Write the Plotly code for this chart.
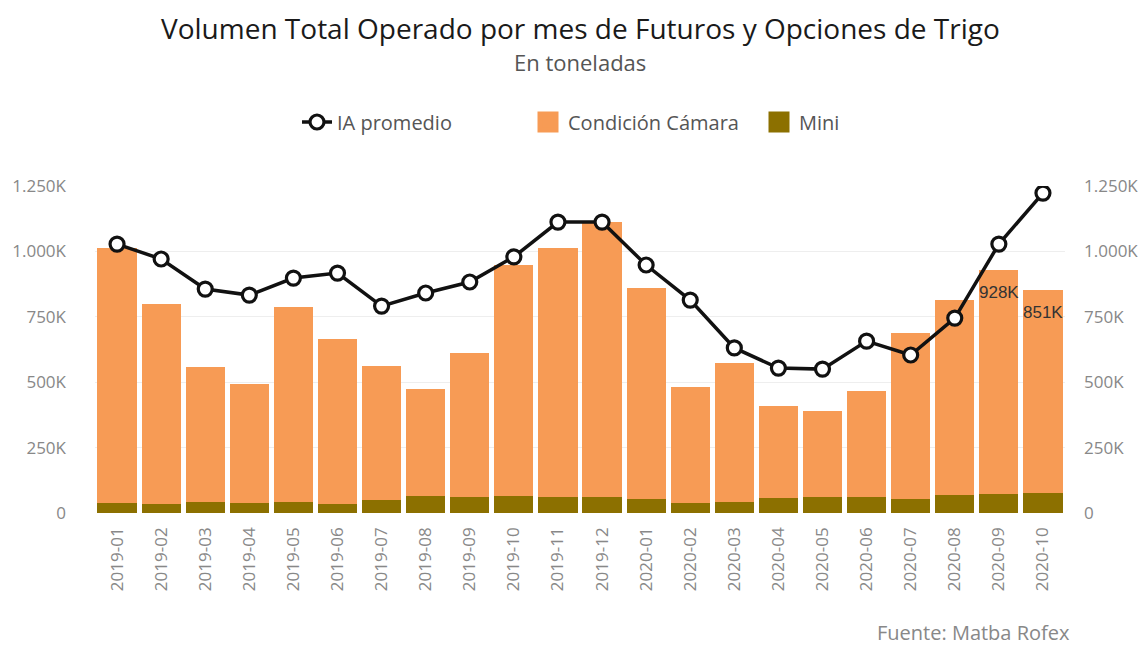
import plotly.graph_objects as go

meses = ["2019-01","2019-02","2019-03","2019-04","2019-05","2019-06","2019-07","2019-08",
         "2019-09","2019-10","2019-11","2019-12","2020-01","2020-02","2020-03","2020-04",
         "2020-05","2020-06","2020-07","2020-08","2020-09","2020-10"]
# Total (Cámara + Mini), tonnes
total = [1013000, 799000, 558000, 493000, 787000, 665000, 562000, 474000,
         612000, 948000, 1013000, 1112000, 860000, 482000, 573000, 409000,
         390000, 466000, 688000, 814000, 928000, 851000]
mini = [40000, 36000, 42000, 38000, 42000, 36000, 50000, 65000,
        62000, 65000, 62000, 62000, 52000, 38000, 42000, 58000,
        62000, 62000, 55000, 68000, 72000, 75000]
camara = [t - m for t, m in zip(total, mini)]
ia_promedio = [1028000, 971000, 856000, 833000, 898000, 917000, 791000, 841000,
               883000, 979000, 1112000, 1112000, 948000, 814000, 631000, 554000,
               550000, 657000, 604000, 745000, 1028000, 1223000]
etiquetados = ["2020-09", "2020-10"]

tickvals = [0, 250000, 500000, 750000, 1000000, 1250000]
ticktext = ["0", "250K", "500K", "750K", "1.000K", "1.250K"]

C_CAMARA = "#F79B55"
C_MINI = "#8C7000"
FONT = "Open Sans"

# page body adds an 8px margin; layout sized to compensate
W, H = 1138, 639
ML, MR, MT, MB = 87, 81, 178, 134
PW = W - ML - MR
PH = H - MT - MB

fig = go.Figure()
fig.add_trace(go.Bar(x=meses, y=mini, name="Mini", marker_color=C_MINI,
                     marker_line_width=0, showlegend=False))
fig.add_trace(go.Bar(x=meses, y=camara, name="Condición Cámara", marker_color=C_CAMARA,
                     marker_line_width=0, showlegend=False))
fig.add_trace(go.Scatter(x=meses, y=ia_promedio, name="IA promedio", yaxis="y2",
                         mode="lines+markers",
                         line=dict(color="#111", width=3.5),
                         marker=dict(size=14, color="white", line=dict(color="#111", width=3.2)),
                         legendrank=1))
# legend entries for the bar series (larger swatches)
fig.add_trace(go.Scatter(x=[None], y=[None], mode="markers", name="Condición Cámara",
                         marker=dict(symbol="square", size=34, color=C_CAMARA,
                                     line=dict(color=C_CAMARA, width=5)), legendrank=2))
fig.add_trace(go.Scatter(x=[None], y=[None], mode="markers", name="Mini",
                         marker=dict(symbol="square", size=34, color=C_MINI,
                                     line=dict(color=C_MINI, width=5)), legendrank=3))

anots = [
    dict(text="Volumen Total Operado por mes de Futuros y Opciones de Trigo",
         xref="paper", yref="paper", x=0.5, y=1 + (186 - 28) / PH,
         xanchor="center", yanchor="middle", showarrow=False,
         font=dict(size=28, color="#1a1a1a", family=FONT)),
    dict(text="En toneladas", xref="paper", yref="paper", x=0.5, y=1 + (186 - 62) / PH,
         xanchor="center", yanchor="middle", showarrow=False,
         font=dict(size=22, color="#555", family=FONT)),
    dict(text="Fuente: Matba Rofex", xref="paper", yref="paper", x=1.0 + 7 / PW,
         y=-(632 - 513) / PH, xanchor="right", yanchor="middle", showarrow=False,
         font=dict(size=20, color="#888", family=FONT)),
]
for m in etiquetados:
    i = meses.index(m)
    anots.append(dict(x=m, y=total[i], xref="x", yref="y", text=f"{round(total[i] / 1000)}K",
                      showarrow=False, yanchor="top", yshift=-11,
                      font=dict(size=17, color="#333", family="Arial")))

fig.update_layout(
    width=W, height=H,
    barmode="stack", bargap=0.11,
    plot_bgcolor="white", paper_bgcolor="white",
    margin=dict(l=ML, r=MR, t=MT, b=MB),
    font=dict(family=FONT, color="#666"),
    showlegend=True,
    legend=dict(orientation="h", x=(289 - ML) / PW, xanchor="left", y=1 + 64 / PH,
                yanchor="middle", font=dict(size=20, color="#555"), itemsizing="trace",
                traceorder="normal", entrywidth=186),
    xaxis=dict(type="category", range=[-0.5, len(meses) - 0.5], automargin=False,
               tickangle=-90, tickfont=dict(size=17, color="#888"),
               showgrid=False, ticks="", showline=False, ticklabelstandoff=10),
    yaxis=dict(range=[0, 1250000], tickvals=tickvals, ticktext=ticktext, automargin=False,
               gridcolor="#EEEEEE", gridwidth=1, zeroline=False,
               tickfont=dict(size=17, color="#888"), ticklabelstandoff=28),
    yaxis2=dict(range=[0, 1250000], tickvals=tickvals, ticktext=ticktext, automargin=False,
                overlaying="y", side="right", showgrid=False, zeroline=False,
                tickfont=dict(size=17, color="#888"), ticklabelstandoff=18),
    annotations=anots,
)
fig.write_html("out.html")
